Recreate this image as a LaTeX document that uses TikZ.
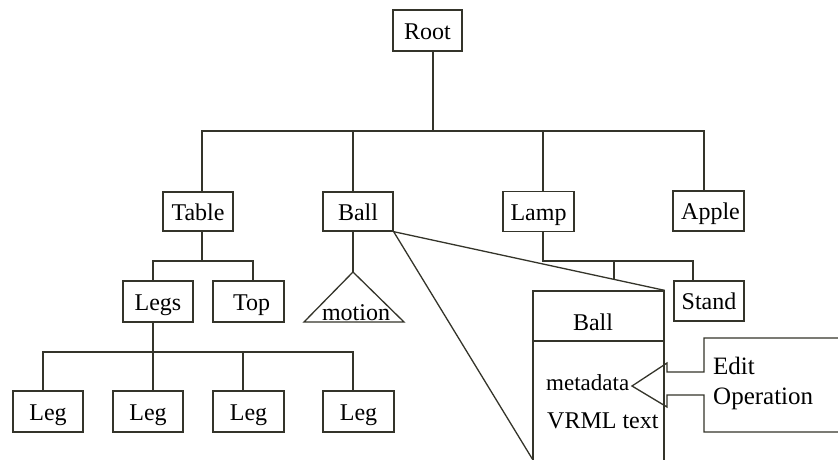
\documentclass[tikz,border=0pt]{standalone}
\usepackage{fontspec}
\setmainfont{Liberation Serif}
\definecolor{lineink}{HTML}{34342A}
\begin{document}
\begin{tikzpicture}[x=1pt,y=-1pt,
  ink/.style={draw=lineink, line width=1.3pt},
  box/.style={ink, rectangle, inner sep=0pt, minimum width=70pt, minimum height=40pt,
              text height=17pt, text depth=0pt,
              font=\fontsize{24}{28}\selectfont, text=black},
  txt/.style={inner sep=0pt, font=\fontsize{24}{28}\selectfont, text=black},
  bigtxt/.style={inner sep=0pt, font=\fontsize{25}{29}\selectfont, text=black},
]
\useasboundingbox (0,0) rectangle (838,459);

% scene graph nodes
\node[box, minimum width=69pt, minimum height=41pt] (Root) at (427.5,30.5) {Root};
\node[box, minimum height=39pt] (Table) at (198,211.5) {Table};
\node[box, minimum height=39pt] (Ball)  at (358,211.5) {Ball};
\node[box, minimum width=71pt] (Lamp)  at (538.5,211.5) {Lamp};
\node[box, minimum width=71pt] (Apple) at (708.5,211) {\hspace*{4pt}Apple};
\node[box, minimum height=41pt] (Legs) at (158,301.5) {Legs};
\node[box, minimum width=71pt, minimum height=41pt] (Top) at (248.5,301.5) {\hspace*{6pt}Top};
\node[box] (Stand) at (709,301) {Stand};
\node[box, minimum height=41pt] (Leg1) at (48,411.5) {Leg};
\node[box, minimum height=41pt] (Leg2) at (148,411.5) {Leg};
\node[box, minimum width=71pt, minimum height=41pt] (Leg3) at (248.5,411.5) {Leg};
\node[box, minimum width=71pt, minimum height=41pt] (Leg4) at (358.5,411.5) {Leg};

% tree connectors
\draw[ink] (Root.south -| 433,0) -- (433,131);
\draw[ink] (Table.north -| 202,0) -- (202,131) -- (704,131) -- (Apple.north -| 704,0);
\draw[ink] (Ball.north -| 353,0) -- (353,131);
\draw[ink] (Lamp.north -| 543,0) -- (543,131);

\draw[ink] (Table.south -| 202,0) -- (202,261);
\draw[ink] (Legs.north -| 153,0) -- (153,261) -- (253,261) -- (Top.north -| 253,0);

\draw[ink] (Legs.south -| 153,0) -- (153,352);
\draw[ink] (Leg1.north -| 43,0) -- (43,352) -- (353,352) -- (Leg4.north -| 353,0);
\draw[ink] (Leg2.north -| 153,0) -- (153,352);
\draw[ink] (Leg3.north -| 243,0) -- (243,352);

% motion subtree of Ball
\coordinate (mtop) at (353,272);
\draw[ink] (Ball.south -| 353,0) -- (mtop);
\draw[ink, line join=miter] (mtop) -- (304,322) -- (404,322) -- cycle;
\node[txt, anchor=base] (motion) at (356,320) {motion};

% expanded view of the Ball node
\node[ink, rectangle, inner sep=0pt, minimum width=131pt, minimum height=200pt] (Detail) at (598.5,391) {};
\draw[ink] (Detail.west |- 0,341) -- (Detail.east |- 0,341);
\node[txt, anchor=base] (dball) at (593,330) {Ball};
\node[txt, font=\fontsize{23}{27}\selectfont, anchor=base west] (metadata) at (546,390) {metadata};
\node[txt, anchor=base west] (vrml) at (547,428) {VRML text};

\draw[ink] (Ball.south east) -- (Detail.north east);
\draw[ink] (Ball.south east) -- (Detail.west |- 0,459);

% Lamp subtree, partly hidden behind the zoom lines
\coordinate (tickTop) at (614,261);
\coordinate (tickLow) at (614,400);
\draw[ink] (Lamp.south -| 543,0) -- (543,261) -- (693,261) -- (Stand.north -| 693,0);
\draw[ink] (tickTop) -- (intersection of Ball.south east--Detail.north east and tickTop--tickLow);

% edit operation callout
\coordinate (tip) at (632,386);
\draw[ink] (860,338) -- (704,338) -- (704,372) -- (667,372) -- (667,363) -- (tip)
  -- (667,407) -- (667,395) -- (704,395) -- (704,432) -- (860,432);
\node[bigtxt, anchor=base west] (edit) at (713,374) {Edit};
\node[bigtxt, anchor=base west] (operation) at (713,404) {Operation};
\end{tikzpicture}
\end{document}
